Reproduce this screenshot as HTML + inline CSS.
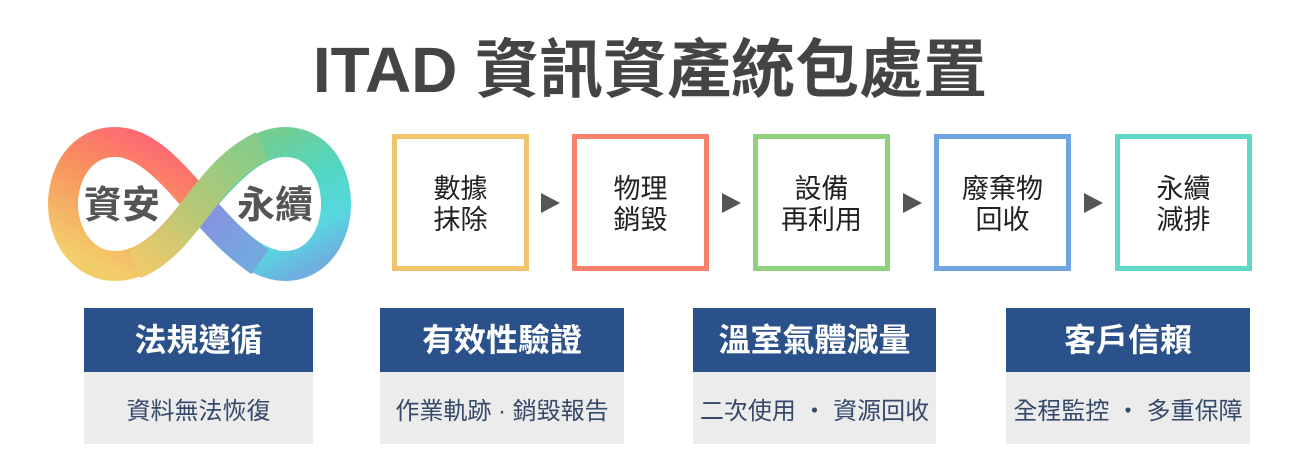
<!DOCTYPE html>
<html><head><meta charset="utf-8"><style>
body{margin:0;width:1300px;height:444px;background:#fff;position:relative;overflow:hidden;font-family:"Liberation Sans","Noto Sans CJK TC",sans-serif}
.t{position:absolute;left:0;width:1300px;top:30px;text-align:center;font-size:64px;font-weight:bold;color:#444;line-height:80px}
.b{position:absolute;top:134px;width:127px;height:127px;border:5px solid;display:flex;align-items:center;justify-content:center;text-align:center;font-size:27px;line-height:31px;color:#222;padding-top:4px;box-sizing:content-box}
.a{position:absolute;top:193px;width:0;height:0;border-top:10.5px solid transparent;border-bottom:10.5px solid transparent;border-left:19px solid #555}
.h{position:absolute;top:308px;height:64px;background:#2a5189;color:#fff;font-weight:bold;font-size:32px;line-height:64px;text-align:center}
.g{position:absolute;top:372px;height:72px;background:#ececec;color:#35496a;font-size:24px;line-height:80px;text-align:center}
</style></head><body>
<div class="t">ITAD 資訊資產統包處置</div>
<svg style="position:absolute;left:0;top:0" width="400" height="300">
<defs>
<linearGradient id="gl" gradientUnits="userSpaceOnUse" x1="185" y1="140" x2="120" y2="275"><stop offset="0" stop-color="#ff5f7a"/><stop offset="0.45" stop-color="#f98f5e"/><stop offset="1" stop-color="#f2cd6a"/></linearGradient>
<linearGradient id="gr" gradientUnits="userSpaceOnUse" x1="230" y1="140" x2="300" y2="275"><stop offset="0" stop-color="#7ccb85"/><stop offset="0.45" stop-color="#52d6c0"/><stop offset="0.75" stop-color="#56d8df"/><stop offset="1" stop-color="#6faee0"/></linearGradient>
<linearGradient id="gp" gradientUnits="userSpaceOnUse" x1="200" y1="204" x2="270" y2="262"><stop offset="0" stop-color="#8a8ee0"/><stop offset="1" stop-color="#6eaee0"/></linearGradient>
<linearGradient id="gx" gradientUnits="userSpaceOnUse" x1="140" y1="262" x2="255" y2="148"><stop offset="0" stop-color="#ecc96a"/><stop offset="0.5" stop-color="#b3c878"/><stop offset="1" stop-color="#86cc88"/></linearGradient>
</defs>
<g fill="none" stroke-width="30">
<path d="M199,204 C170,170 145,142 115,142 C80,142 63,175 63,204 C63,238 85,266 115,266 C150,266 175,235 199,204" stroke="url(#gl)"/>
<path d="M199,204 C228,238 255,266 285,266 C318,266 336,235 336,204 C336,172 318,142 285,142 C255,142 228,170 199,204" stroke="url(#gr)"/>
<path d="M199,204 C215,222 232,242 260,262" stroke="url(#gp)"/>
<path d="M135,264 C165,252 185,222 199,204 C213,186 232,160 262,146" stroke="url(#gx)"/>
</g>
<text x="122" y="218" text-anchor="middle" font-size="38" font-weight="bold" fill="#555" font-family="Liberation Sans,Noto Sans CJK TC,sans-serif">資安</text>
<text x="275" y="218" text-anchor="middle" font-size="38" font-weight="bold" fill="#555" font-family="Liberation Sans,Noto Sans CJK TC,sans-serif">永續</text>
</svg>
<div class="b" style="left:392px;border-color:#f0c46c;height:123px">數據<br>抹除</div>
<div class="a" style="left:541px"></div>
<div class="b" style="left:572px;border-color:#fb826a;height:123px">物理<br>銷毀</div>
<div class="a" style="left:722px"></div>
<div class="b" style="left:753px;border-color:#8fd07e;height:123px">設備<br>再利用</div>
<div class="a" style="left:903px"></div>
<div class="b" style="left:934px;border-color:#6fa6e2;height:123px">廢棄物<br>回收</div>
<div class="a" style="left:1084px"></div>
<div class="b" style="left:1115px;border-color:#5fd8c8;height:123px">永續<br>減排</div>
<div class="h" style="left:84px;width:229px">法規遵循</div>
<div class="g" style="left:84px;width:229px">資料無法恢復</div>
<div class="h" style="left:380px;width:244px">有效性驗證</div>
<div class="g" style="left:380px;width:244px">作業軌跡 · 銷毀報告</div>
<div class="h" style="left:693px;width:243px">溫室氣體減量</div>
<div class="g" style="left:693px;width:243px">二次使用 ・ 資源回收</div>
<div class="h" style="left:1006px;width:244px">客戶信賴</div>
<div class="g" style="left:1006px;width:244px">全程監控 ・ 多重保障</div>
</body></html>
